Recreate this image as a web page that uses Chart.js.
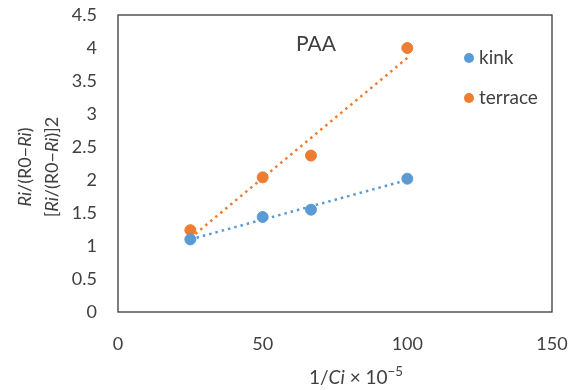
<!DOCTYPE html>
<html>
<head>
<meta charset="utf-8">
<script src="https://cdn.jsdelivr.net/npm/chart.js@4.4.1/dist/chart.umd.min.js"></script>
<style>
  html, body { margin: 0; padding: 0; background: #fff; }
  #wrap { width: 577px; height: 390px; position: relative; }
</style>
</head>
<body>
<div id="wrap"><canvas id="grafico"></canvas></div>
<script>
// valores
const X_VALUES      = [25, 50, 66.7, 100];
const KINK          = [1.10, 1.44, 1.55, 2.02];
const TERRACE       = [1.24, 2.04, 2.37, 4.00];
const TREND_X       = [25, 100];
const KINK_TREND    = [1.10, 2.00];
const TERRACE_TREND = [1.12, 3.85];
const SERIES_LABELS = ['kink', 'terrace'];
const CHART_TITLE   = 'PAA';

const COLORS = {
  kink: '#5B9BD5',
  terrace: '#ED7D31',
  text: '#404040',
  box: '#3a3a3a'
};
const FONT = 'Lato, "Open Sans", sans-serif';

const pts = (xs, ys) => xs.map((x, i) => ({ x, y: ys[i] }));

// dibuja texto con partes en cursiva / superindice
function drawParts(ctx, parts, cx, cy, size) {
  let total = 0;
  const widths = parts.map(p => {
    const s = p.sup ? size * 0.7 : size;
    ctx.font = `${p.italic ? 'italic ' : ''}${s}px ${FONT}`;
    const w = ctx.measureText(p.t).width;
    total += w;
    return w;
  });
  let x = cx - total / 2;
  parts.forEach((p, i) => {
    const s = p.sup ? size * 0.7 : size;
    ctx.font = `${p.italic ? 'italic ' : ''}${s}px ${FONT}`;
    ctx.fillText(p.t, x, p.sup ? cy - size * 0.35 : cy);
    x += widths[i];
  });
}

const extras = {
  id: 'extras',
  afterDraw(chart) {
    const { ctx, chartArea: a } = chart;
    ctx.save();
    // marco del area
    ctx.strokeStyle = COLORS.box;
    ctx.lineWidth = 1.3;
    ctx.strokeRect(a.left, a.top, a.right - a.left, a.bottom - a.top);

    ctx.fillStyle = COLORS.text;
    ctx.textAlign = 'left';
    ctx.textBaseline = 'middle';

    // titulo interno
    ctx.font = `21px ${FONT}`;
    ctx.fillText(CHART_TITLE, 296, 44);

    // leyenda
    const leg = [[SERIES_LABELS[0], COLORS.kink, 58], [SERIES_LABELS[1], COLORS.terrace, 98]];
    for (const [txt, col, y] of leg) {
      ctx.fillStyle = col;
      ctx.beginPath();
      ctx.arc(469, y, 5, 0, Math.PI * 2);
      ctx.fill();
      ctx.fillStyle = COLORS.text;
      ctx.font = `19px ${FONT}`;
      ctx.fillText(txt, 479, y);
    }

    // titulo eje x
    drawParts(ctx, [
      { t: '1/' }, { t: 'Ci', italic: true }, { t: ' × 10' }, { t: '−5', sup: true }
    ], 356, 378, 19);

    // titulo eje y (dos lineas, rotado)
    ctx.translate(0, 167);
    ctx.rotate(-Math.PI / 2);
    drawParts(ctx, [
      { t: 'Ri', italic: true }, { t: '/(R0−' }, { t: 'Ri', italic: true }, { t: ')' }
    ], 0, 25, 18);
    drawParts(ctx, [
      { t: '[' }, { t: 'Ri', italic: true }, { t: '/(R0−' }, { t: 'Ri', italic: true }, { t: ')]2' }
    ], 0, 52, 18);
    ctx.restore();
  }
};

const dotted = (data, color) => ({
  type: 'line',
  data,
  borderColor: color,
  borderWidth: 2.5,
  borderDash: [2.5, 4],
  pointRadius: 0,
  fill: false,
  showLine: true
});

// sin relleno automatico por etiquetas, el area queda fija
function fixScale(s, size) {
  if (s.isHorizontal()) s.height = size; else s.width = size;
  s.paddingLeft = s.paddingRight = s.paddingTop = s.paddingBottom = 0;
}

new Chart(document.getElementById('grafico'), {
  type: 'scatter',
  data: {
    datasets: [
      { label: SERIES_LABELS[0], data: pts(X_VALUES, KINK), backgroundColor: COLORS.kink, borderColor: COLORS.kink, pointRadius: 5.5 },
      { label: SERIES_LABELS[1], data: pts(X_VALUES, TERRACE), backgroundColor: COLORS.terrace, borderColor: COLORS.terrace, pointRadius: 5.5 },
      dotted(pts(TREND_X, KINK_TREND), COLORS.kink),
      dotted(pts(TREND_X, TERRACE_TREND), COLORS.terrace)
    ]
  },
  options: {
    responsive: true,
    maintainAspectRatio: false,
    animation: false,
    layout: { padding: { left: 0, top: 15, right: 25, bottom: 0 } },
    plugins: { legend: { display: false }, tooltip: { enabled: false } },
    scales: {
      x: {
        type: 'linear', min: 0, max: 150,
        ticks: { stepSize: 50, color: COLORS.text, font: { family: FONT, size: 18 }, padding: 21 },
        grid: { display: false, drawTicks: false },
        border: { display: false },
        afterFit: (s) => fixScale(s, 78)
      },
      y: {
        min: 0, max: 4.5,
        ticks: {
          stepSize: 0.5, color: COLORS.text, font: { family: FONT, size: 18 }, padding: 21,
          callback: (v) => String(v)
        },
        grid: { display: false, drawTicks: false },
        border: { display: false },
        afterFit: (s) => fixScale(s, 118)
      }
    }
  },
  plugins: [extras]
});
</script>
</body>
</html>
